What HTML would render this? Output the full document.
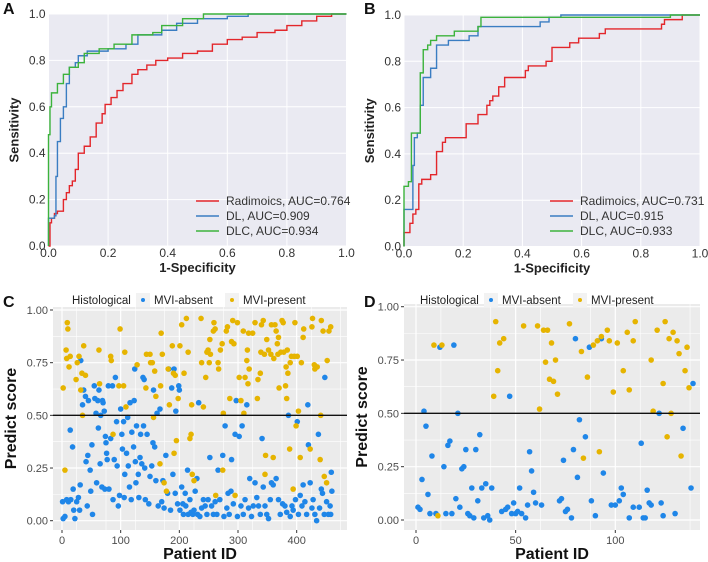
<!DOCTYPE html>
<html><head><meta charset="utf-8"><style>
body{margin:0;background:#fff}
svg{display:block;font-family:"Liberation Sans",Arial,sans-serif}
</style></head><body>
<svg id="fig" width="708" height="562" viewBox="0 0 708 562"></svg>
<script>
// ---------- ROC data ----------
const rocA_rad=[[0,0],[0.005,0.1],[0.01,0.12],[0.02,0.14],[0.03,0.15],[0.045,0.15],[0.05,0.2],[0.06,0.23],[0.07,0.26],[0.08,0.28],[0.09,0.33],[0.1,0.4],[0.12,0.43],[0.14,0.47],[0.16,0.53],[0.18,0.57],[0.19,0.61],[0.21,0.64],[0.23,0.67],[0.25,0.7],[0.28,0.74],[0.3,0.76],[0.33,0.78],[0.36,0.8],[0.4,0.81],[0.45,0.83],[0.5,0.84],[0.55,0.87],[0.6,0.89],[0.65,0.9],[0.7,0.92],[0.76,0.93],[0.8,0.95],[0.85,0.97],[0.9,0.99],[0.95,1],[1,1]];
const rocA_dl=[[0,0],[0,0.12],[0.02,0.13],[0.025,0.3],[0.03,0.45],[0.04,0.55],[0.05,0.6],[0.06,0.7],[0.07,0.77],[0.09,0.79],[0.1,0.82],[0.13,0.84],[0.2,0.85],[0.26,0.87],[0.3,0.91],[0.38,0.93],[0.43,0.96],[0.5,0.98],[0.6,0.99],[0.67,1],[1,1]];
const rocA_dlc=[[0,0],[0,0.48],[0.005,0.6],[0.01,0.66],[0.03,0.7],[0.05,0.74],[0.07,0.77],[0.1,0.79],[0.12,0.83],[0.17,0.85],[0.22,0.87],[0.28,0.91],[0.35,0.92],[0.38,0.95],[0.45,0.98],[0.52,1],[1,1]];
const rocB_rad=[[0,0],[0,0.06],[0.02,0.1],[0.03,0.14],[0.04,0.16],[0.05,0.27],[0.06,0.29],[0.09,0.31],[0.11,0.41],[0.13,0.45],[0.14,0.47],[0.21,0.53],[0.25,0.57],[0.28,0.61],[0.29,0.63],[0.3,0.65],[0.32,0.69],[0.34,0.73],[0.41,0.76],[0.42,0.78],[0.48,0.8],[0.5,0.86],[0.56,0.88],[0.59,0.9],[0.66,0.92],[0.68,0.94],[0.87,0.96],[0.88,0.98],[0.94,1],[1,1]];
const rocB_dl=[[0,0],[0,0.16],[0.03,0.35],[0.035,0.47],[0.045,0.49],[0.055,0.61],[0.065,0.73],[0.09,0.77],[0.11,0.87],[0.15,0.89],[0.22,0.91],[0.25,0.95],[0.46,0.97],[0.49,0.99],[0.53,1],[1,1]];
const rocB_dlc=[[0,0],[0,0.26],[0.015,0.28],[0.025,0.49],[0.055,0.75],[0.065,0.85],[0.08,0.87],[0.09,0.89],[0.11,0.91],[0.17,0.93],[0.25,0.95],[0.26,0.99],[0.9,1],[1,1]];
const rocTicks=[0,0.2,0.4,0.6,0.8,1.0];
const legendA=["Radimoics, AUC=0.764","DL, AUC=0.909","DLC, AUC=0.934"];
const legendB=["Radimoics, AUC=0.731","DL, AUC=0.915","DLC, AUC=0.933"];
// ---------- scatter data [patientId, score] ----------
const cPresent=[[2,.63],[9,.94],[10,.91],[7,.81],[8,.77],[12,.73],[14,.78],[5,.24],[24,.67],[26,.75],[29,.78],[34,.70],[37,.83],[32,.62],[35,.50],[40,.69],[63,.81],[64,.65],[83,.78],[84,.76],[87,.41],[97,.64],[99,.91],[105,.64],[107,.80],[109,.54],[128,.74],[143,.63],[144,.79],[150,.79],[151,.75],[154,.75],[156,.49],[158,.71],[160,.59],[169,.89],[171,.79],[168,.64],[167,.27],[174,.18],[178,.14],[181,.72],[183,.55],[188,.83],[190,.70],[193,.69],[195,.38],[191,.32],[198,.58],[201,.83],[204,.93],[208,.70],[212,.96],[215,.80],[221,.55],[218,.39],[220,.41],[222,.22],[225,.19],[237,.96],[238,.75],[241,.54],[245,.68],[247,.80],[249,.81],[251,.75],[252,.86],[253,.79],[258,.90],[259,.94],[261,.91],[262,.12],[266,.75],[267,.72],[270,.81],[273,.84],[274,.24],[275,.51],[280,.90],[282,.92],[286,.58],[289,.85],[291,.95],[293,.84],[295,.12],[299,.94],[302,.68],[305,.57],[309,.90],[310,.51],[312,.68],[315,.76],[316,.81],[317,.65],[319,.72],[318,.89],[325,.89],[329,.94],[333,.58],[334,.67],[338,.70],[339,.80],[340,.93],[343,.95],[345,.79],[347,.31],[346,.22],[349,.86],[352,.81],[356,.79],[357,.93],[360,.30],[361,.77],[363,.93],[365,.90],[367,.84],[368,.79],[369,.87],[370,.63],[373,.80],[375,.95],[377,.94],[378,.80],[382,.73],[384,.81],[383,.58],[381,.64],[385,.70],[388,.34],[389,.75],[391,.78],[394,.15],[396,.78],[397,.94],[399,.45],[401,.78],[403,.52],[406,.30],[408,.75],[411,.87],[412,.91],[423,.34],[426,.92],[427,.96],[430,.74],[431,.72],[435,.73],[440,.29],[441,.50],[442,.95],[445,.90],[447,.21],[451,.18],[452,.76],[455,.90],[458,.92]];
const cAbsent=[[1,.09],[2,.01],[5,.02],[8,.10],[11,.09],[14,.43],[15,.10],[18,.35],[19,.15],[20,.05],[22,.01],[25,.09],[28,.11],[30,.05],[31,.17],[32,.76],[35,.55],[37,.62],[40,.59],[41,.28],[43,.07],[44,.31],[45,.57],[48,.24],[49,.14],[51,.36],[52,.03],[55,.64],[56,.58],[58,.51],[59,.18],[61,.57],[62,.44],[63,.62],[65,.27],[66,.50],[68,.16],[69,.57],[70,.56],[72,.52],[73,.15],[74,.40],[75,.37],[76,.32],[77,.29],[79,.64],[80,.15],[83,.39],[86,.64],[87,.10],[89,.29],[91,.68],[93,.47],[94,.26],[96,.07],[98,.12],[100,.53],[102,.41],[103,.34],[105,.47],[106,.11],[107,.22],[110,.32],[112,.49],[113,.26],[115,.16],[116,.56],[118,.10],[119,.42],[122,.35],[123,.57],[124,.72],[125,.28],[126,.18],[127,.45],[130,.22],[131,.11],[133,.30],[134,.41],[136,.27],[138,.68],[139,.45],[140,.67],[141,.25],[142,.10],[145,.41],[148,.08],[150,.21],[153,.26],[155,.37],[156,.62],[158,.35],[160,.19],[162,.51],[164,.07],[167,.53],[170,.09],[172,.19],[174,.06],[177,.31],[180,.13],[182,.72],[185,.05],[187,.63],[189,.22],[191,.72],[193,.13],[194,.52],[197,.08],[199,.64],[200,.62],[201,.05],[204,.16],[206,.08],[207,.03],[210,.13],[211,.07],[214,.24],[215,.03],[218,.10],[220,.04],[223,.03],[225,.05],[227,.14],[230,.20],[231,.03],[233,.56],[235,.02],[238,.06],[241,.10],[244,.07],[247,.03],[249,.10],[252,.30],[255,.07],[258,.03],[261,.09],[264,.03],[266,.24],[269,.10],[274,.31],[276,.02],[278,.45],[281,.06],[283,.13],[285,.03],[288,.14],[289,.29],[292,.08],[295,.41],[297,.57],[299,.02],[302,.40],[305,.07],[307,.45],[309,.03],[312,.10],[315,.55],[318,.06],[320,.20],[323,.02],[326,.07],[329,.18],[332,.11],[335,.07],[338,.03],[341,.39],[343,.16],[346,.07],[349,.03],[352,.01],[355,.10],[357,.18],[360,.17],[365,.20],[369,.10],[372,.03],[376,.08],[380,.07],[383,.04],[386,.50],[389,.02],[392,.07],[394,.05],[398,.10],[401,.47],[403,.03],[406,.12],[409,.07],[411,.17],[414,.09],[417,.03],[419,.55],[420,.36],[423,.18],[426,.06],[428,.10],[431,.03],[434,.00],[437,.41],[439,.06],[442,.15],[444,.13],[447,.03],[448,.68],[451,.09],[454,.03],[457,.07],[459,.23],[460,.14],[458,.03]];
const dPresent=[[9,.82],[13,.82],[11,.02],[39,.58],[40,.93],[41,.70],[42,.83],[44,.85],[54,.91],[61,.91],[62,.52],[64,.89],[65,.74],[66,.89],[67,.66],[68,.83],[69,.65],[70,.75],[71,.59],[77,.92],[83,.79],[84,.29],[86,.67],[89,.82],[91,.84],[92,.32],[93,.86],[96,.89],[97,.84],[99,.60],[101,.83],[104,.70],[106,.88],[107,.61],[109,.84],[110,.93],[118,.75],[119,.51],[121,.89],[124,.64],[125,.93],[126,.39],[127,.85],[128,.50],[129,.88],[131,.84],[132,.78],[133,.30],[135,.70],[136,.81],[137,.62]];
const dAbsent=[[1,.06],[2,.05],[3,.19],[4,.51],[5,.44],[6,.12],[7,.03],[8,.30],[10,.03],[12,.81],[14,.25],[15,.03],[16,.35],[17,.37],[18,.03],[19,.82],[20,.10],[21,.50],[22,.06],[23,.24],[24,.25],[25,.33],[26,.03],[27,.02],[28,.15],[29,.01],[30,.33],[31,.09],[32,.40],[33,.15],[34,.01],[35,.17],[36,.02],[37,.00],[38,.15],[43,.04],[45,.05],[46,.06],[47,.58],[48,.03],[49,.08],[50,.03],[51,.04],[52,.15],[53,.03],[55,.01],[56,.07],[57,.32],[58,.23],[59,.13],[60,.08],[63,.07],[72,.09],[73,.10],[74,.28],[75,.04],[76,.05],[78,.01],[79,.33],[80,.85],[81,.20],[82,.47],[85,.39],[87,.81],[88,.09],[90,.02],[93,.85],[94,.22],[98,.07],[100,.07],[102,.09],[103,.15],[104,.12],[107,.01],[109,.06],[112,.06],[113,.36],[114,.01],[115,.01],[116,.14],[117,.08],[118,.07],[122,.50],[123,.08],[124,.02],[130,.03],[134,.43],[138,.15],[139,.64]];
const scoreTicks=[0,0.25,0.5,0.75,1.0];
const scoreTickLabels=["0.00","0.25","0.50","0.75","1.00"];
const cIdTicks=[0,100,200,300,400];
const dIdTicks=[0,50,100];

const NS="http://www.w3.org/2000/svg";
const svg=document.getElementById('fig');
function el(tag,attrs,parent,txt){const e=document.createElementNS(NS,tag);for(const k in attrs)e.setAttribute(k,attrs[k]);if(txt!==undefined)e.textContent=txt;(parent||svg).appendChild(e);return e;}
const COL={rad:"#e3262b",dl:"#3a7dc2",dlc:"#3cb33c",blue:"#1f86e8",gold:"#e6b400"};

function rocPanel(letter,x0,x1,yTop,yBot,series,legend,lx,ly){
  const g=el('g',{});
  
  
  const sx=v=>x0+v*(x1-x0), sy=v=>yBot-v*(yBot-yTop);
  const bg=el('rect',{x:x0,y:yTop,width:x1-x0,height:yBot-yTop,fill:"#eaeaf2"},g);
  
  
  rocTicks.forEach(t=>{
    const gv=el('line',{x1:sx(t),x2:sx(t),y1:yTop,y2:yBot,stroke:"#fff","stroke-width":1},g);
    
    
    const gh=el('line',{x1:x0,x2:x1,y1:sy(t),y2:sy(t),stroke:"#fff","stroke-width":1},g);
    
    
    const xl=el('text',{x:sx(t),y:yBot+11,"font-size":12,fill:"#333","text-anchor":"middle"},g,t.toFixed(1));
    
    
    const yl=el('text',{x:x0-3,y:sy(t)+4,"font-size":12,fill:"#333","text-anchor":"end"},g,t.toFixed(1));
    
    
  });
  const names=['radiomics','dl','dlc'];
  series.forEach((s,i)=>{
    let d="M"+sx(s[0][0])+","+sy(s[0][1]);
    for(let k=1;k<s.length;k++){d+=" L"+sx(s[k][0])+","+sy(s[k-1][1])+" L"+sx(s[k][0])+","+sy(s[k][1]);}
    const p=el('path',{d:d,fill:"none",stroke:[COL.rad,COL.dl,COL.dlc][i],"stroke-width":1.4},g);
    
    
  });
  legend.forEach((t,i)=>{
    const y=ly+i*15;
    const ln=el('line',{x1:lx,x2:lx+23,y1:y,y2:y,stroke:[COL.rad,COL.dl,COL.dlc][i],"stroke-width":1.5},g);
    
    
    const tx=el('text',{x:lx+30,y:y+4,"font-size":12,fill:"#333"},g,t);
    
    
  });
  const xt=el('text',{x:(x0+x1)/2,y:yBot+26,"font-size":13,"font-weight":"bold",fill:"#222","text-anchor":"middle"},g,"1-Specificity");
  
  
  const yt=el('text',{x:0,y:0,"font-size":13,"font-weight":"bold",fill:"#222","text-anchor":"middle",transform:`translate(${x0-30},${(yTop+yBot)/2}) rotate(-90)`},g,"Sensitivity");
  
  
}

function scatterPanel(letter,px0,px1,pTop,pBot,xZero,xPer,yZero,yOne,idTicks,minorStep,absent,present,legX){
  const g=el('g',{});
  
  
  const sx=v=>xZero+v*xPer, sy=v=>yZero-v*(yZero-yOne);
  const bg=el('rect',{x:px0,y:pTop,width:px1-px0,height:pBot-pTop,fill:"#ebebeb"},g);
  
  
  for(let i=0;i<scoreTicks.length-1;i++){
    const m=(scoreTicks[i]+scoreTicks[i+1])/2;
    const gm=el('line',{x1:px0,x2:px1,y1:sy(m),y2:sy(m),stroke:"#fff","stroke-width":0.6},g);
    
    
  }
  for(let v=minorStep/2;sx(v)<px1;v+=minorStep){
    const gm=el('line',{x1:sx(v),x2:sx(v),y1:pTop,y2:pBot,stroke:"#fff","stroke-width":0.6},g);
    
    
  }
  scoreTicks.forEach((t,i)=>{
    const gh=el('line',{x1:px0,x2:px1,y1:sy(t),y2:sy(t),stroke:"#fff","stroke-width":1.2},g);
    
    
    const tk=el('line',{x1:px0-3,x2:px0,y1:sy(t),y2:sy(t),stroke:"#333","stroke-width":1},g);
    
    
    const yl=el('text',{x:px0-5,y:sy(t)+4,"font-size":11,fill:"#4d4d4d","text-anchor":"end"},g,scoreTickLabels[i]);
    
    
  });
  idTicks.forEach(t=>{
    const gv=el('line',{x1:sx(t),x2:sx(t),y1:pTop,y2:pBot,stroke:"#fff","stroke-width":1.2},g);
    
    
    const tk=el('line',{x1:sx(t),x2:sx(t),y1:pBot,y2:pBot+3,stroke:"#333","stroke-width":1},g);
    
    
    const xl=el('text',{x:sx(t),y:pBot+14,"font-size":11,fill:"#4d4d4d","text-anchor":"middle"},g,String(t));
    
    
  });
  absent.forEach(p=>{
    const c=el('circle',{cx:sx(p[0]),cy:sy(p[1]),r:2.8,fill:COL.blue},g);
    
    
  });
  present.forEach(p=>{
    const c=el('circle',{cx:sx(p[0]),cy:sy(p[1]),r:2.8,fill:COL.gold},g);
    
    
  });
  const th=el('line',{x1:px0,x2:px1,y1:sy(0.5),y2:sy(0.5),stroke:"#111","stroke-width":1.4},g);
  
  
  const xt=el('text',{x:(px0+px1)/2,y:pBot+29,"font-size":16,"font-weight":"bold",fill:"#111","text-anchor":"middle"},g,"Patient ID");
  
  
  const yt=el('text',{x:0,y:0,"font-size":16,"font-weight":"bold",fill:"#111","text-anchor":"middle",transform:`translate(${px0-37},${(pTop+pBot)/2}) rotate(-90)`},g,"Predict score");
  
  
  const lt=el('text',{x:legX,y:304,"font-size":11.5,fill:"#222"},g,"Histological");
  
  
  const k1=el('rect',{x:legX+64,y:293,width:14,height:14,fill:"#f2f2f2"},g);
  
  
  const d1=el('circle',{cx:legX+71,cy:300,r:2,fill:COL.blue},g);
  
  
  const t1=el('text',{x:legX+82,y:304,"font-size":11.5,fill:"#222"},g,"MVI-absent");
  
  
  const k2=el('rect',{x:legX+153,y:293,width:14,height:14,fill:"#f2f2f2"},g);
  
  
  const d2=el('circle',{cx:legX+160,cy:300,r:2,fill:COL.gold},g);
  
  
  const t2=el('text',{x:legX+171,y:304,"font-size":11.5,fill:"#222"},g,"MVI-present");
  
  
}

rocPanel('A',48.5,346.5,14,246,[rocA_rad,rocA_dl,rocA_dlc],legendA,196,201);
rocPanel('B',404,700,15,246.5,[rocB_rad,rocB_dl,rocB_dlc],legendB,550,201);
scatterPanel('C',53,347,307,530,62,0.5867,520.7,310,cIdTicks,50,cAbsent,cPresent,72);
scatterPanel('D',404,700,304,530,416,1.993,520,306.7,dIdTicks,25,dAbsent,dPresent,420);

[['A',3,14],['B',364,14],['C',3,307],['D',364,307]].forEach(l=>{
  const t=el('text',{x:l[1],y:l[2],"font-size":16,"font-weight":"bold",fill:"#111"},svg,l[0]);
  
  
});
</script>
</body></html>
